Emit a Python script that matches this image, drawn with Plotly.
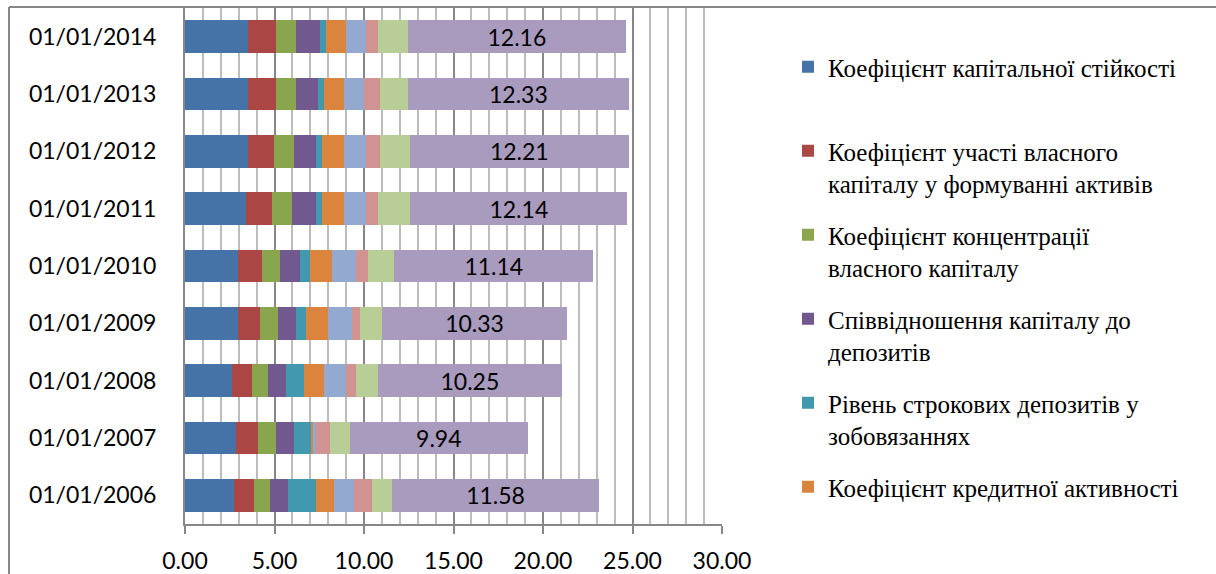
import plotly.graph_objects as go

categories = ["01/01/2006", "01/01/2007", "01/01/2008", "01/01/2009", "01/01/2010",
              "01/01/2011", "01/01/2012", "01/01/2013", "01/01/2014"]

series_names = [
    "Коефіцієнт капітальної стійкості",
    "Коефіцієнт участі власного<br>капіталу у формуванні активів",
    "Коефіцієнт концентрації<br>власного капіталу",
    "Співвідношення капіталу до<br>депозитів",
    "Рівень строкових депозитів у<br>зобовязаннях",
    "Коефіцієнт кредитної активності",
    "Показник 7",
    "Показник 8",
    "Показник 9",
    "Показник 10",
]

s1 = [2.75, 2.86, 2.64, 2.97, 2.97, 3.43, 3.53, 3.53, 3.53]
s2 = [1.12, 1.23, 1.12, 1.23, 1.34, 1.45, 1.45, 1.56, 1.56]
s3 = [0.89, 1.00, 0.89, 1.00, 1.00, 1.12, 1.12, 1.12, 1.12]
s4 = [1.00, 1.00, 1.00, 1.00, 1.12, 1.34, 1.23, 1.23, 1.34]
s5 = [1.56, 1.00, 1.00, 0.56, 0.56, 0.33, 0.33, 0.33, 0.33]
s6 = [1.00, 0.11, 1.12, 1.23, 1.23, 1.23, 1.23, 1.12, 1.12]
s7 = [1.12, 0.11, 1.23, 1.34, 1.34, 1.23, 1.23, 1.12, 1.12]
s8 = [1.00, 0.78, 0.56, 0.45, 0.67, 0.67, 0.78, 0.89, 0.67]
s9 = [1.12, 1.12, 1.23, 1.23, 1.45, 1.78, 1.67, 1.56, 1.67]
s10 = [11.58, 9.94, 10.25, 10.33, 11.14, 12.14, 12.21, 12.33, 12.16]

series_values = [s1, s2, s3, s4, s5, s6, s7, s8, s9, s10]
colors = ['#4572A7', '#AA4643', '#89A54E', '#71588F', '#4198AF',
          '#DB843D', '#93A9CF', '#D19392', '#B9CD96', '#A99BBD']

x_ticks = [0, 5, 10, 15, 20, 25, 30]

fig = go.Figure()
for i, (name, vals, col) in enumerate(zip(series_names, series_values, colors)):
    legend_name = name + "<br> " if i == 0 else name
    kw = {}
    if i == len(series_names) - 1:
        kw = dict(text=vals, texttemplate="%{x:.2f}", textposition="inside",
                  insidetextanchor="middle", constraintext="none",
                  textfont=dict(family="Lato", size=23, color="black"))
    fig.add_trace(go.Bar(
        y=categories, x=vals, name=legend_name, orientation="h",
        marker=dict(color=col, line=dict(width=0)),
        showlegend=i < 6, legendgroup=f"g{i}", hoverinfo="x+name", **kw))

L, R, T, B = 185, 494, 8, 49.5
W, H = 1216, 574
pw, ph = W - L - R, H - T - B

def px_x(p):
    return (p - L) / pw

def px_y(p):
    return (H - B - p) / ph

fig.update_layout(
    width=W, height=H, barmode="stack", bargap=0.434,
    margin=dict(l=L, r=R, t=T, b=B, pad=0, autoexpand=False),
    paper_bgcolor="white", plot_bgcolor="white",
    font=dict(family="Lato", size=23, color="black"),
    legend=dict(
        xref="container", yref="container",
        x=788 / W, xanchor="left", y=1 - 44 / H, yanchor="top",
        traceorder="grouped", tracegroupgap=16, valign="top",
        maxheight=560,
        font=dict(family="Liberation Serif", size=25, color="black"),
        bgcolor="rgba(0,0,0,0)",
    ),
    xaxis=dict(
        range=[0, 30], tickvals=x_ticks, tickformat=".2f",
        showgrid=True, gridcolor="#878787", gridwidth=2,
        minor=dict(dtick=1, showgrid=True, gridcolor="#BDBDBD", gridwidth=2),
        showline=True, linecolor="#878787", linewidth=2,
        ticks="outside", ticklen=8, tickcolor="#878787", tickwidth=2,
        tickfont=dict(family="Lato", size=23, color="black"),
        ticklabelstandoff=7, zeroline=False, fixedrange=True, automargin=False,
    ),
    yaxis=dict(
        type="category", categoryorder="array", categoryarray=categories,
        showgrid=False, showline=True, linecolor="#878787", linewidth=2,
        ticks="", tickfont=dict(family="Lato", size=23, color="black"),
        ticklabelstandoff=22, fixedrange=True, automargin=False,
    ),
    shapes=[
        dict(type="line", xref="paper", yref="paper",
             x0=px_x(9), x1=px_x(W + 5), y0=px_y(7), y1=px_y(7),
             line=dict(color="#878787", width=2)),
        dict(type="line", xref="paper", yref="paper",
             x0=px_x(9), x1=px_x(9), y0=px_y(7), y1=px_y(H + 5),
             line=dict(color="#878787", width=2)),
    ],
)

fig.write_html(
    "out.html",
    config={"displayModeBar": False},
    post_script="document.body.style.margin='0';document.body.style.padding='0';"
                "document.documentElement.style.overflow='hidden';",
)
